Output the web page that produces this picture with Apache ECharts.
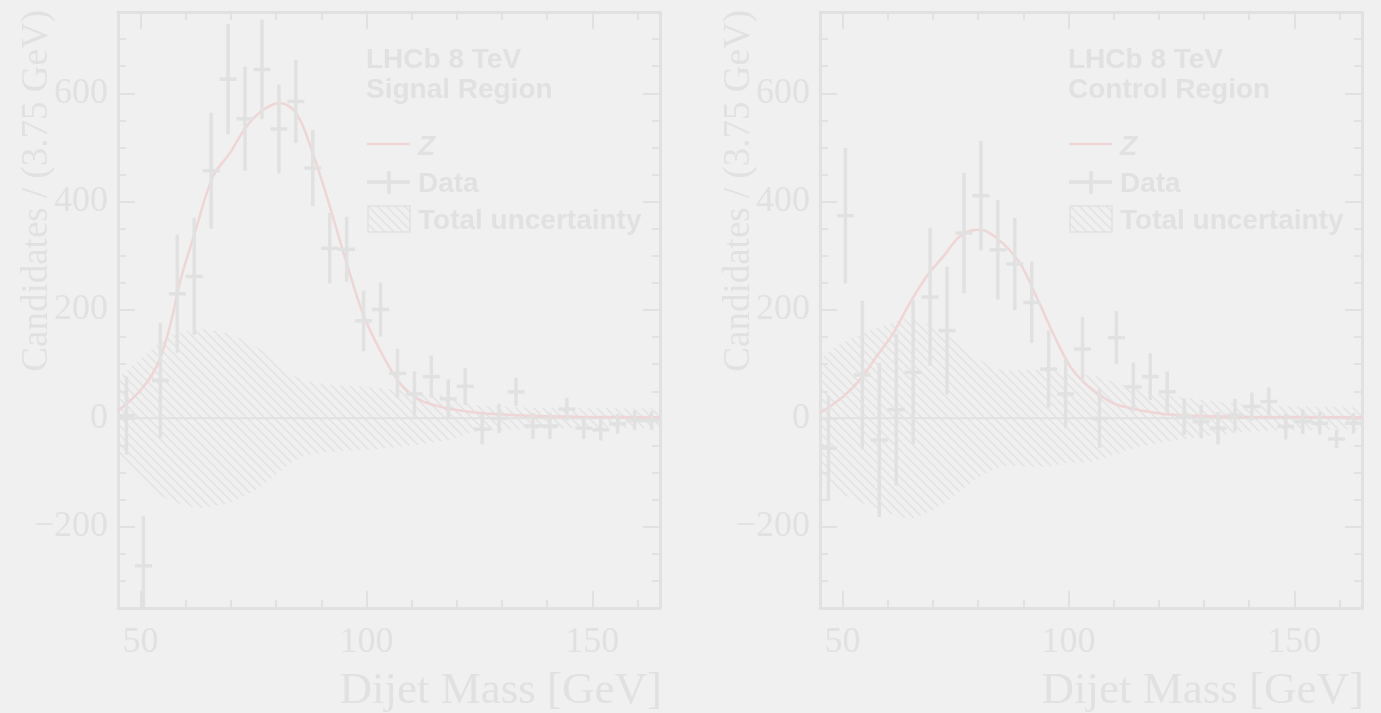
<!DOCTYPE html>
<html><head><meta charset="utf-8">
<script src="https://cdn.jsdelivr.net/npm/echarts@6/dist/echarts.min.js"></script>
<style>html,body{margin:0;padding:0;background:#f0f0f0;}#c{width:1381px;height:713px;}</style>
</head><body><div id="c"></div>
<script>
// ---------------- data ----------------
const binCenters = [46.875, 50.625, 54.375, 58.125, 61.875, 65.625, 69.375, 73.125, 76.875, 80.625, 84.375, 88.125, 91.875, 95.625, 99.375, 103.125, 106.875, 110.625, 114.375, 118.125, 121.875, 125.625, 129.375, 133.125, 136.875, 140.625, 144.375, 148.125, 151.875, 155.625, 159.375, 163.125];
const binHalfWidth = 1.875;

const signalData = [5, -272, 70, 230, 262, 457, 626, 553, 644, 534, 585, 462, 314, 312, 180, 201, 83, 45, 77, 36, 59, -20, 0, 49, -14, -14, 17, -18, -21, -10, -4, -4];
const signalErr  = [72, 92, 106, 109, 108, 107, 102, 96, 92, 82, 77, 70, 65, 60, 56, 50, 45, 42, 39, 36, 34, 28, 27, 26, 24, 24, 21, 20, 20, 18, 18, 17];

const controlData = [-55, 374, 80, -40, 16, 85, 224, 162, 342, 411, 311, 285, 214, 91, 45, 128, 0, 149, 58, 77, 49, 3, -6, -18, 6, 22, 31, -15, -6, -9, -38, -9];
const controlErr  = [97, 125, 137, 142, 140, 133, 127, 118, 111, 101, 92, 85, 75, 71, 63, 59, 55, 49, 45, 43, 38, 34, 31, 30, 30, 26, 26, 24, 23, 21, 17, 19];

const zSignalMass = [45, 47.6, 50, 52.5, 54.3, 56.5, 59, 62, 66, 69.8, 73.5, 77.1, 80.8, 84.5, 88.1, 91.9, 95.6, 99.2, 103, 107.4, 111.8, 117.7, 125, 136, 147, 165];
const zSignalVal  = [14, 32, 52, 80, 110, 170, 260, 342, 446, 490, 539, 569, 582, 563, 490, 391, 287, 194, 126, 65, 34, 19, 10, 5, 3, 2];

const zControlMass = [45, 50.1, 53.8, 57.5, 61.2, 64.9, 68.6, 72.3, 76, 79.7, 81.9, 85.5, 89.3, 92.9, 96.6, 100.4, 104, 109.2, 112.1, 119.5, 126.9, 140, 165];
const zControlVal  = [10, 40, 71, 114, 157, 213, 262, 299, 336, 348, 345, 323, 286, 225, 157, 96, 62, 31, 22, 10, 5, 3, 2];

const uncSignalMass = [45, 50, 56, 63, 70, 76, 82, 86, 95, 100, 110, 118, 124, 135, 165];
const uncSignalVal  = [75, 110, 150, 165, 155, 130, 90, 70, 60, 58, 50, 40, 25, 20, 18];

const uncControlMass = [45, 50, 57, 65, 72, 80, 86, 95, 100, 105, 116, 127, 141, 165];
const uncControlVal  = [110, 140, 165, 185, 160, 110, 88, 90, 82, 80, 52, 37, 24, 20];

const xMajorTicks = [50, 100, 150];
const xMinorTicks = [60, 70, 80, 90, 110, 120, 130, 140, 160];
const yMajorTicks = [-200, 0, 200, 400, 600];
const yMinorTicks = [-300, -250, -150, -100, -50, 50, 100, 150, 250, 300, 350, 450, 500, 550, 650, 700];

const panelTitles = [["LHCb 8 TeV", "Signal Region"], ["LHCb 8 TeV", "Control Region"]];
const legendLabels = ["Z", "Data", "Total uncertainty"];
const xTitle = "Dijet Mass [GeV]";
const yTitle = "Candidates / (3.75 GeV)";

// ---------------- style ----------------
const BG = '#f0f0f0';
const GRAY = '#e1e1e1';
const HATCH = '#e2e2e2';
const PINK = '#efd5d5';
const SERIF = "'Liberation Serif', 'DejaVu Serif', serif";
const SANS = "'Liberation Sans', Arial, sans-serif";

function makeHatch() {
  const s = 9, c = document.createElement('canvas');
  c.width = s; c.height = s;
  const g = c.getContext('2d');
  g.strokeStyle = HATCH; g.lineWidth = 1.5;
  g.beginPath();
  g.moveTo(-2, -2); g.lineTo(s + 2, s + 2);
  g.moveTo(-2, s - 2); g.lineTo(2, s + 2);
  g.moveTo(s - 2, -2); g.lineTo(s + 2, 2);
  g.stroke();
  return c;
}
const hatchCanvas = makeHatch();
const hatchFill = () => ({ image: hatchCanvas, repeat: 'repeat' });

const chart = echarts.init(document.getElementById('c'), null, { renderer: 'canvas' });

const gridDefs = [
  { left: 118, top: 12, width: 542, height: 596 },
  { left: 820, top: 12, width: 542, height: 596 }
];
const X_MIN = 45, X_MAX = 165, Y_MIN = -350, Y_MAX = 750;

const xAxes = [], yAxes = [];
gridDefs.forEach((g, gi) => {
  const base = { gridIndex: gi, type: 'value', min: X_MIN, max: X_MAX, splitLine: { show: false } };
  xAxes.push(Object.assign({}, base, {
    position: 'bottom',
    axisLine: { show: true, onZero: false, lineStyle: { color: GRAY, width: 3 } },
    axisTick: { show: true, inside: true, length: 17, customValues: xMajorTicks, lineStyle: { color: GRAY, width: 2 } },
    axisLabel: { show: true, customValues: xMajorTicks, color: GRAY, fontFamily: SERIF, fontSize: 36, margin: 17 }
  }));
  xAxes.push(Object.assign({}, base, {
    position: 'bottom',
    axisLine: { show: false, onZero: false },
    axisTick: { show: true, inside: true, length: 8, customValues: xMinorTicks, lineStyle: { color: GRAY, width: 2 } },
    axisLabel: { show: false }
  }));
  xAxes.push(Object.assign({}, base, {
    position: 'top',
    axisLine: { show: true, onZero: false, lineStyle: { color: GRAY, width: 3 } },
    axisTick: { show: true, inside: true, length: 17, customValues: xMajorTicks, lineStyle: { color: GRAY, width: 2 } },
    axisLabel: { show: false }
  }));
  xAxes.push(Object.assign({}, base, {
    position: 'top',
    axisLine: { show: false, onZero: false },
    axisTick: { show: true, inside: true, length: 8, customValues: xMinorTicks, lineStyle: { color: GRAY, width: 2 } },
    axisLabel: { show: false }
  }));
  const ybase = { gridIndex: gi, type: 'value', min: Y_MIN, max: Y_MAX, splitLine: { show: false } };
  yAxes.push(Object.assign({}, ybase, {
    position: 'left',
    axisLine: { show: true, onZero: false, lineStyle: { color: GRAY, width: 3 } },
    axisTick: { show: true, inside: true, length: 17, customValues: yMajorTicks, lineStyle: { color: GRAY, width: 2 } },
    axisLabel: { show: true, customValues: yMajorTicks, color: GRAY, fontFamily: SERIF, fontSize: 36, margin: 10,
      formatter: v => (v < 0 ? '\u2212' + (-v) : String(v)) }
  }));
  yAxes.push(Object.assign({}, ybase, {
    position: 'left',
    axisLine: { show: false, onZero: false },
    axisTick: { show: true, inside: true, length: 8, customValues: yMinorTicks, lineStyle: { color: GRAY, width: 2 } },
    axisLabel: { show: false }
  }));
  yAxes.push(Object.assign({}, ybase, {
    position: 'right',
    axisLine: { show: true, onZero: false, lineStyle: { color: GRAY, width: 3 } },
    axisTick: { show: true, inside: true, length: 17, customValues: yMajorTicks, lineStyle: { color: GRAY, width: 2 } },
    axisLabel: { show: false }
  }));
  yAxes.push(Object.assign({}, ybase, {
    position: 'right',
    axisLine: { show: false, onZero: false },
    axisTick: { show: true, inside: true, length: 8, customValues: yMinorTicks, lineStyle: { color: GRAY, width: 2 } },
    axisLabel: { show: false }
  }));
});

function errorBarRender(params, api) {
  const x = api.value(0), y = api.value(1), e = api.value(2);
  const c = api.coord([x, y]);
  const top = api.coord([x, y + e]);
  const bot = api.coord([x, y - e]);
  const l = api.coord([x - binHalfWidth, y]);
  const r = api.coord([x + binHalfWidth, y]);
  return {
    type: 'group',
    children: [
      { type: 'line', shape: { x1: c[0], y1: top[1], x2: c[0], y2: bot[1] }, style: { stroke: GRAY, lineWidth: 3.5 } },
      { type: 'line', shape: { x1: l[0], y1: c[1], x2: r[0], y2: c[1] }, style: { stroke: GRAY, lineWidth: 3.5 } }
    ]
  };
}

const panels = [
  { data: signalData, err: signalErr, zM: zSignalMass, zV: zSignalVal, uM: uncSignalMass, uV: uncSignalVal },
  { data: controlData, err: controlErr, zM: zControlMass, zV: zControlVal, uM: uncControlMass, uV: uncControlVal }
];

const series = [];
panels.forEach((p, gi) => {
  const ax = { xAxisIndex: gi * 4, yAxisIndex: gi * 4 };
  series.push(Object.assign({
    type: 'line', name: 'unc+' + gi, data: p.uM.map((m, i) => [m, p.uV[i]]),
    showSymbol: false, smooth: 0.2, lineStyle: { width: 0 }, areaStyle: { color: hatchFill(), opacity: 1 },
    silent: true, z: 1
  }, ax));
  series.push(Object.assign({
    type: 'line', name: 'unc-' + gi, data: p.uM.map((m, i) => [m, -p.uV[i]]),
    showSymbol: false, smooth: 0.2, lineStyle: { width: 0 }, areaStyle: { color: hatchFill(), opacity: 1 },
    silent: true, z: 1
  }, ax));
  series.push(Object.assign({
    type: 'line', name: 'zero' + gi, data: [[X_MIN, 0], [X_MAX, 0]],
    showSymbol: false, lineStyle: { color: GRAY, width: 2 }, silent: true, z: 2
  }, ax));
  series.push(Object.assign({
    type: 'line', name: 'Z' + gi, data: p.zM.map((m, i) => [m, p.zV[i]]),
    showSymbol: false, smooth: 0.35, lineStyle: { color: PINK, width: 2.5 }, silent: true, z: 3
  }, ax));
  series.push(Object.assign({
    type: 'custom', name: 'Data' + gi, renderItem: errorBarRender, clip: true,
    data: binCenters.map((m, i) => [m, p.data[i], p.err[i]]),
    encode: { x: 0, y: 1 }, silent: true, z: 4
  }, ax));
});

// ---------------- annotations (text + legend) ----------------
const graphics = [];
gridDefs.forEach((g, gi) => {
  const ox = gi * 702;
  graphics.push({ type: 'text', x: 366 + ox, y: 60, style: { text: panelTitles[gi][0], font: "bold 28px " + SANS, fill: GRAY, textVerticalAlign: 'middle' } });
  graphics.push({ type: 'text', x: 366 + ox, y: 90, style: { text: panelTitles[gi][1], font: "bold 28px " + SANS, fill: GRAY, textVerticalAlign: 'middle' } });
  // legend: Z
  graphics.push({ type: 'line', shape: { x1: 367 + ox, y1: 144, x2: 410 + ox, y2: 144 }, style: { stroke: PINK, lineWidth: 2.5 } });
  graphics.push({ type: 'text', x: 418 + ox, y: 147, style: { text: legendLabels[0], font: "italic bold 28px " + SANS, fill: GRAY, textVerticalAlign: 'middle' } });
  // legend: Data
  graphics.push({ type: 'line', shape: { x1: 367 + ox, y1: 182, x2: 410 + ox, y2: 182 }, style: { stroke: GRAY, lineWidth: 3.5 } });
  graphics.push({ type: 'line', shape: { x1: 389 + ox, y1: 171, x2: 389 + ox, y2: 194 }, style: { stroke: GRAY, lineWidth: 3.5 } });
  graphics.push({ type: 'text', x: 418 + ox, y: 184, style: { text: legendLabels[1], font: "bold 28px " + SANS, fill: GRAY, textVerticalAlign: 'middle' } });
  // legend: hatched box
  graphics.push({ type: 'rect', shape: { x: 368 + ox, y: 206, width: 42, height: 26 }, style: { fill: hatchFill(), stroke: GRAY, lineWidth: 1.5 } });
  graphics.push({ type: 'text', x: 418 + ox, y: 221, style: { text: legendLabels[2], font: "bold 28px " + SANS, fill: GRAY, textVerticalAlign: 'middle' } });
  // axis titles
  graphics.push({ type: 'text', x: 662 + ox, y: 691, style: { text: xTitle, font: "45px " + SERIF, fill: GRAY, textAlign: 'right', textVerticalAlign: 'middle' } });
  graphics.push({ type: 'text', x: 37 + ox, y: 10, rotation: Math.PI / 2, style: { text: yTitle, font: "37px " + SERIF, fill: GRAY, textAlign: 'right', textVerticalAlign: 'middle' } });
});

chart.setOption({
  backgroundColor: BG,
  animation: false,
  grid: gridDefs,
  xAxis: xAxes,
  yAxis: yAxes,
  series: series,
  graphic: graphics
});
</script>
</body></html>
